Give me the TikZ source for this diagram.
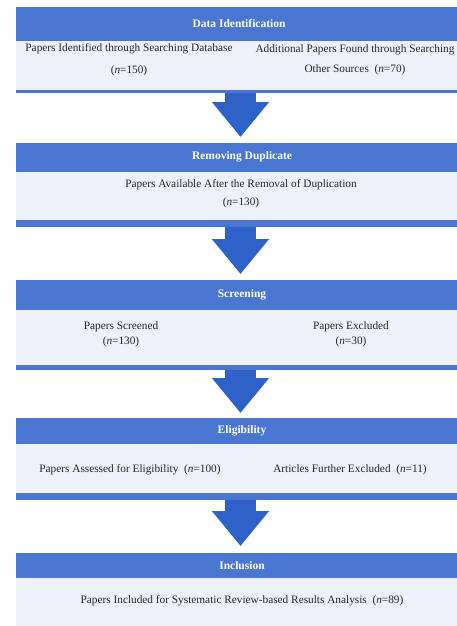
\documentclass[tikz,border=0pt]{standalone}
\usepackage{fontspec}
\setmainfont{Liberation Serif}
\usetikzlibrary{arrows.meta}
\definecolor{hdr}{RGB}{74,118,210}
\definecolor{arw}{RGB}{46,98,200}
\definecolor{bodyc}{RGB}{238,241,249}
\begin{document}
\begin{tikzpicture}[x=1pt,y=1pt,
  hdrbox/.style={fill=hdr, draw=none, anchor=north west, minimum width=441pt, inner sep=0pt},
  bodybox/.style={fill=bodyc, draw=none, anchor=north west, minimum width=441pt, inner sep=0pt},
  barbox/.style={fill=hdr, draw=none, anchor=north west, minimum width=441pt, inner sep=0pt},
  htext/.style={text=white, font=\fontsize{11.5}{13}\selectfont\bfseries, inner sep=0pt},
  btext/.style={text=black!85, font=\fontsize{11.3}{18}\selectfont, align=center, inner sep=0pt},
  flowarrow/.style={draw=arw, line width=31pt, -{Triangle[width=55pt,length=35pt]}, shorten >=0pt}
]
\useasboundingbox (0,0) rectangle (457,-626);
% Panel 1
\node[hdrbox, minimum height=34pt] (h1) at (16,-7) {};
\node[bodybox, minimum height=49pt] (b1) at (16,-41) {};
\node[barbox, minimum height=3pt] (r1) at (16,-90) {};
\node[htext] (t1) at (239,-24) {Data Identification};
\node[btext, font=\fontsize{11.3}{22}\selectfont] (p1a) at (129,-60) {Papers Identified through Searching Database\\(\textit{n}=150)};
\node[btext, font=\fontsize{11.3}{20}\selectfont] (p1b) at (355,-60) {Additional Papers Found through Searching\\Other Sources \ (\textit{n}=70)};
% Panel 2
\node[hdrbox, minimum height=29pt] (h2) at (16,-143) {};
\node[bodybox, minimum height=48pt] (b2) at (16,-172) {};
\node[barbox, minimum height=7pt] (r2) at (16,-220) {};
\node[htext] (t2) at (242,-157) {Removing Duplicate};
\node[btext] (p2) at (241,-194) {Papers Available After the Removal of Duplication\\(\textit{n}=130)};
% Panel 3
\node[hdrbox, minimum height=30pt] (h3) at (16,-280) {};
\node[bodybox, minimum height=55pt] (b3) at (16,-310) {};
\node[barbox, minimum height=5pt] (r3) at (16,-365) {};
\node[htext] (t3) at (242,-295) {Screening};
\node[btext, font=\fontsize{11.3}{15}\selectfont] (p3a) at (121,-334) {Papers Screened\\(\textit{n}=130)};
\node[btext, font=\fontsize{11.3}{15}\selectfont] (p3b) at (351,-334) {Papers Excluded\\(\textit{n}=30)};
% Panel 4
\node[hdrbox, minimum height=26pt] (h4) at (16,-418) {};
\node[bodybox, minimum height=49pt] (b4) at (16,-444) {};
\node[barbox, minimum height=7pt] (r4) at (16,-493) {};
\node[htext] (t4) at (242,-431) {Eligibility};
\node[btext] (p4a) at (130,-470) {Papers Assessed for Eligibility \ (\textit{n}=100)};
\node[btext] (p4b) at (350,-470) {Articles Further Excluded \ (\textit{n}=11)};
% Panel 5
\node[hdrbox, minimum height=25pt] (h5) at (16,-553) {};
\node[bodybox, minimum height=48pt] (b5) at (16,-578) {};
\node[htext] (t5) at (242,-566) {Inclusion};
\node[btext] (p5) at (242,-601) {Papers Included for Systematic Review-based Results Analysis \ (\textit{n}=89)};
% Arrows
\coordinate (a1s) at (240.5,-93);  \coordinate (a1e) at (240.5,-137);
\coordinate (a2s) at (240.5,-227); \coordinate (a2e) at (240.5,-274);
\coordinate (a3s) at (240.5,-370); \coordinate (a3e) at (240.5,-413);
\coordinate (a4s) at (240.5,-500); \coordinate (a4e) at (240.5,-546);
\draw[flowarrow] (a1s) -- (a1e);
\draw[flowarrow] (a2s) -- (a2e);
\draw[flowarrow] (a3s) -- (a3e);
\draw[flowarrow] (a4s) -- (a4e);
\end{tikzpicture}
\end{document}
